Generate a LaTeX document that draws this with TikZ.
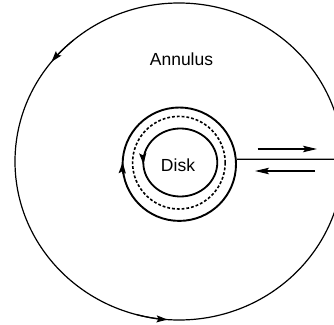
\documentclass[tikz,border=0pt]{standalone}
\usepackage{fontspec}
\setmainfont{Liberation Sans}
\usetikzlibrary{arrows.meta,shapes.geometric}
\begin{document}
\begin{tikzpicture}[x=1bp,y=1bp,
  lab/.style={font=\fontsize{17.5bp}{20bp}\selectfont, inner sep=0pt},
  tip/.style={-{Stealth[length=11bp,width=7bp,inset=2bp]}},
  flow/.style={line width=1.3bp,-{Stealth[length=14bp,width=6.5bp,inset=2.5bp]}}]
\useasboundingbox (0,0) rectangle (334,325);
\clip (0,0) rectangle (334,325);
% outer boundary
\coordinate (O) at (179,163.5);
\draw[line width=1.2bp] (O) ellipse [x radius=164, y radius=158.5];
\draw[tip,line width=1.2bp] ([shift={(130:164 and 158.5)}]O) arc[start angle=130,end angle=141,x radius=164,y radius=158.5];
\draw[tip,line width=1.2bp] ([shift={(255:164 and 158.5)}]O) arc[start angle=255,end angle=266,x radius=164,y radius=158.5];
% ring
\node[draw, circle, line width=1.9bp, minimum size=113.4bp, inner sep=0pt] (ring) at (179.3,160.8) {};
\draw[tip,line width=1.9bp] ([shift={(190:56.7)}]ring.center) arc[start angle=190,end angle=178,radius=56.7];
% dashed
\node[draw, circle, dash pattern=on 2.8bp off 2bp, line width=1.6bp, minimum size=92.6bp, inner sep=0pt] (cut) at (178.9,162.3) {};
% disk
\node[draw, ellipse, line width=1.8bp, minimum width=74bp, minimum height=68bp, inner sep=0pt] (diskb) at (180.3,162.5) {};
\draw[tip,line width=1.8bp] ([shift={(170:37 and 34)}]diskb.center) arc[start angle=170,end angle=183,x radius=37,y radius=34];
% labels
\node[lab] (annulus) at (181.5,265.5) {Annulus};
\node[lab] (disk) at (178,160) {Disk};
% line to edge
\coordinate (edge) at (334,165.7);
\draw[line width=1.2bp] (ring.5) -- (edge);
% flow arrows
\coordinate (a1) at (257.7,176);
\coordinate (a2) at (317,176);
\coordinate (b1) at (315,154);
\coordinate (b2) at (255,154);
\draw[flow] (a1) -- (a2);
\draw[flow] (b1) -- (b2);
\end{tikzpicture}
\end{document}
